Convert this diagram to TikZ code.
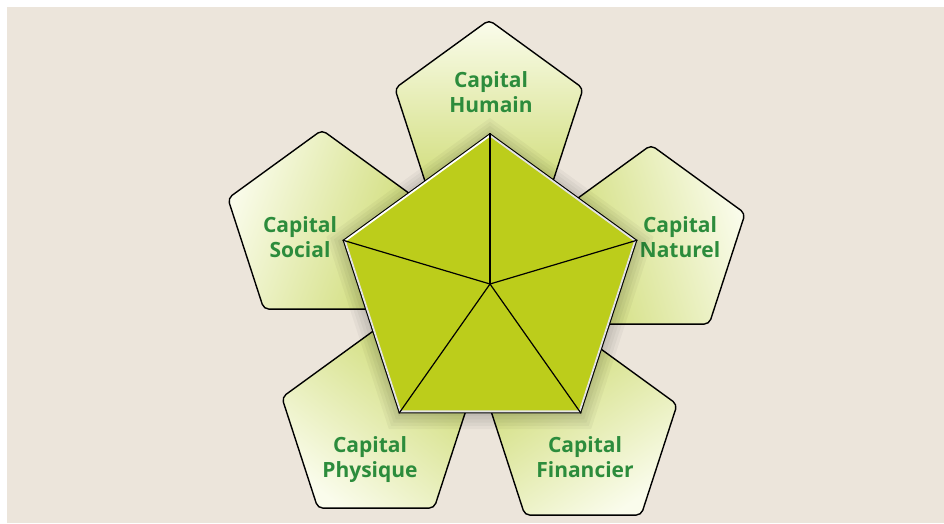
\documentclass[tikz,border=0pt]{standalone}
\usepackage{fontspec}
\setmainfont{Open Sans}
\usetikzlibrary{shapes.geometric}
\usetikzlibrary{calc}

\definecolor{marble}{RGB}{236,229,219}
\definecolor{leaf}{RGB}{188,205,27}
\definecolor{pale}{RGB}{206,219,115}
\definecolor{milk}{RGB}{250,252,236}
\definecolor{ink}{RGB}{44,140,60}

\begin{document}
\begin{tikzpicture}[x=1pt,y=-1pt]
 \tikzstyle{capbox} = [regular polygon, regular polygon sides=5, minimum size=198pt, inner sep=0pt, draw=black, line width=1.4pt, rounded corners=5pt, top color=milk, bottom color=pale];
 \tikzstyle{lbl} = [font=\bfseries\fontsize{21}{25}\selectfont, text=ink, align=center, anchor=north, inner sep=0pt];

 \useasboundingbox (0,0) rectangle (944,523);
 \fill[white] (0,0) rectangle (944,523);
 \fill[marble] (7,7) rectangle (944,523);

 \node (humain) [capbox, shading angle=0] at (489,119) {};
 \node (social) [capbox, shading angle=70] at (322,229) {};
 \node (naturel) [capbox, shading angle=-74] at (651,244) {};
 \node (physique) [capbox, shading angle=142] at (376,428) {};
 \node (financier) [capbox, shading angle=214] at (583,435) {};

 \node (humainlbl) [lbl] at (491,71) {Capital\\Humain};
 \node (sociallbl) [lbl] at (300,216) {Capital\\Social};
 \node (naturellbl) [lbl] at (680,216) {Capital\\Naturel};
 \node (physiquelbl) [lbl] at (370,436) {Capital\\Physique};
 \node (financierlbl) [lbl] at (585,436) {Capital\\Financier};

 % soft shadow under the centre
 \begin{scope}[shift={(490,290)}]
  \foreach \r in {172,168,...,156}
   \fill[black, opacity=0.035] (-90:\r) -- (-18:\r) -- (54:\r) -- (126:\r) -- (198:\r) -- cycle;
 \end{scope}

 \node (core) [regular polygon, regular polygon sides=5, minimum size=308pt, inner sep=0pt, fill=leaf, draw=black, line width=1.6pt] at (490,288) {};

 \tikzstyle{bevel} = [line width=1.8pt, line cap=round];
 \draw [bevel, white] ($(core.center)!0.984!(core.corner 2)$) -- ($(core.center)!0.984!(core.corner 1)$);
 \draw [bevel, gray!22] ($(core.center)!0.984!(core.corner 1)$) -- ($(core.center)!0.984!(core.corner 5)$) -- ($(core.center)!0.984!(core.corner 4)$) -- ($(core.center)!0.984!(core.corner 3)$) -- ($(core.center)!0.984!(core.corner 2)$);

 \coordinate (hub) at (490,284);
 \foreach \i in {1,...,5}
  \draw [line width=1.2pt] (hub) -- (core.corner \i);

\end{tikzpicture}
\end{document}
